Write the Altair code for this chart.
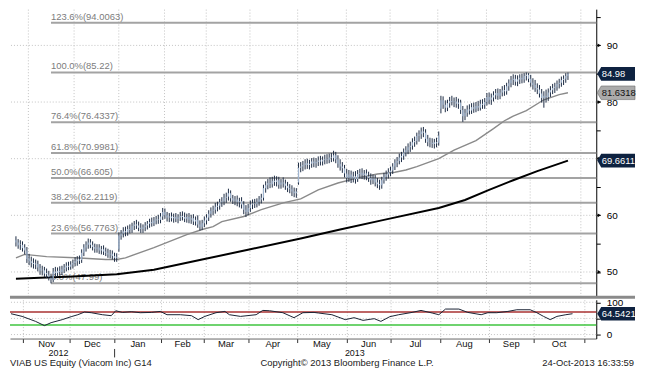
import altair as alt
import pandas as pd

# ---------------- data (trading-day index: 1 Nov 2012 = 0) ----------------
first_idx = -6

opens = [
    55.6, 55.2, 54.8, 54.8, 54.3, 53.8, 52.4, 51.9, 51.6, 51.3,
    51.4, 50.7, 50.3, 50.3, 49.8, 49.5, 49.0, 48.6, 50.1, 49.8,
    50.2, 50.0, 50.5, 50.8, 51.1, 50.9, 51.3, 51.6, 51.9, 52.2,
    52.1, 53.4, 54.3, 54.8, 55.2, 54.8, 54.4, 54.1, 54.3, 53.8,
    54.0, 53.6, 53.4, 53.1, 53.2, 52.8, 52.5, 54.0, 56.4, 56.8,
    57.2, 57.0, 57.6, 57.4, 58.1, 58.4, 58.2, 57.8, 57.6, 57.9,
    58.2, 58.5, 58.8, 58.6, 59.1, 59.3, 59.2, 59.8, 60.6, 60.0,
    59.6, 59.8, 59.5, 59.7, 59.4, 59.6, 59.9, 59.7, 59.4, 59.7,
    59.2, 59.5, 58.9, 59.2, 58.4, 58.0, 58.6, 59.1, 59.6, 60.3,
    60.8, 61.0, 61.5, 61.7, 62.3, 62.5, 63.1, 63.3, 63.9, 63.0,
    62.6, 62.8, 62.3, 62.5, 61.9, 61.0, 60.6, 61.3, 61.9, 62.1,
    62.0, 62.4, 62.8, 63.1, 64.8, 65.3, 65.7, 65.5, 66.1, 65.9,
    66.2, 65.4, 65.8, 65.6, 65.2, 64.8, 64.6, 64.2, 63.9, 65.8,
    68.4, 68.6, 68.9, 69.2, 68.9, 69.1, 69.5, 69.2, 69.4, 69.7,
    69.5, 69.8, 70.0, 69.8, 70.2, 70.1, 70.6, 69.9, 69.1, 68.6,
    68.3, 67.4, 66.6, 67.2, 66.5, 66.9, 66.4, 67.3, 67.5, 67.1,
    67.4, 66.9, 66.6, 66.2, 66.5, 65.8, 65.5, 65.3, 66.2, 66.8,
    67.2, 67.6, 67.9, 68.6, 69.3, 69.6, 70.2, 70.5, 71.1, 71.5,
    72.0, 72.3, 72.9, 73.1, 74.0, 74.3, 74.8, 74.6, 73.5, 72.9,
    72.8, 72.6, 72.9, 72.8, 78.8, 80.3, 79.5, 79.0, 79.8, 80.2,
    80.0, 80.1, 79.7, 79.9, 78.6, 77.5, 78.1, 78.7, 78.5, 79.1,
    78.8, 79.3, 79.0, 79.7, 79.5, 80.0, 80.9, 80.4, 80.8, 81.2,
    81.6, 81.1, 81.7, 82.1, 81.9, 82.8, 83.3, 83.9, 84.1, 83.6,
    84.0, 84.3, 84.0, 84.6, 84.8, 84.1, 83.4, 83.0, 82.5, 82.2,
    81.5, 80.7, 81.1, 80.9, 81.7, 82.1, 82.5, 82.7, 83.2, 83.4,
    83.9, 84.1, 84.6,
]
highs = [
    56.3, 55.8, 55.6, 55.4, 54.9, 54.4, 53.2, 52.7, 52.4, 52.2,
    52.0, 51.4, 51.1, 50.9, 50.6, 50.2, 49.7, 50.7, 50.9, 50.8,
    51.0, 51.1, 51.4, 51.7, 51.8, 51.9, 52.2, 52.6, 52.8, 52.9,
    54.0, 54.9, 55.4, 55.9, 55.8, 55.4, 55.0, 54.9, 54.9, 54.6,
    54.7, 54.3, 54.1, 53.9, 53.8, 53.4, 53.3, 57.0, 57.4, 57.9,
    58.0, 58.2, 58.4, 58.7, 59.0, 59.2, 58.9, 58.6, 58.4, 58.8,
    59.0, 59.4, 59.6, 59.7, 59.9, 60.1, 60.4, 61.3, 61.2, 60.6,
    60.4, 60.5, 60.3, 60.4, 60.2, 60.6, 60.7, 60.5, 60.3, 60.4,
    60.1, 60.2, 59.8, 60.0, 59.1, 59.2, 59.8, 60.2, 60.9, 61.4,
    61.7, 62.2, 62.4, 62.9, 63.2, 63.8, 64.0, 64.7, 64.4, 63.6,
    63.4, 63.5, 63.1, 63.2, 62.5, 61.8, 62.0, 62.6, 62.8, 62.9,
    63.0, 63.4, 63.8, 65.4, 66.0, 66.4, 66.7, 66.8, 67.0, 66.9,
    66.8, 66.4, 66.7, 66.3, 65.9, 65.5, 65.3, 64.9, 64.8, 69.3,
    69.4, 69.6, 69.9, 70.0, 69.8, 70.1, 70.2, 70.1, 70.4, 70.5,
    70.4, 70.7, 70.8, 70.9, 71.0, 71.4, 71.2, 70.6, 69.9, 69.4,
    68.9, 68.2, 68.0, 67.9, 67.7, 67.8, 68.0, 68.2, 68.3, 68.0,
    68.1, 67.7, 67.4, 67.2, 67.1, 66.6, 66.3, 66.8, 67.5, 67.9,
    68.3, 68.6, 69.2, 69.9, 70.3, 70.9, 71.2, 71.8, 72.2, 72.7,
    73.0, 73.6, 73.9, 74.6, 75.0, 75.5, 75.6, 75.2, 74.2, 73.7,
    73.6, 73.5, 73.7, 74.8, 81.1, 81.0, 80.3, 80.4, 80.9, 81.1,
    80.8, 80.9, 80.6, 80.4, 79.3, 78.8, 79.4, 79.6, 79.8, 79.9,
    80.0, 80.2, 80.4, 80.5, 80.7, 81.6, 81.7, 81.5, 81.9, 82.3,
    82.4, 82.3, 82.8, 83.0, 83.4, 84.0, 84.6, 84.9, 84.8, 84.7,
    84.9, 85.0, 85.1, 85.22, 85.1, 84.8, 84.2, 83.9, 83.3, 83.0,
    82.3, 81.9, 82.2, 82.4, 82.8, 83.2, 83.4, 83.8, 84.1, 84.5,
    84.7, 85.1, 85.2,
]
lows = [
    54.5, 54.1, 53.9, 53.6, 53.1, 51.6, 51.2, 50.8, 50.6, 50.5,
    50.1, 49.5, 49.4, 49.1, 48.9, 48.5, 47.99, 48.2, 49.1, 49.2,
    49.4, 49.5, 49.8, 50.1, 50.3, 50.4, 50.6, 51.0, 51.1, 51.4,
    51.6, 52.8, 53.6, 54.1, 54.2, 53.8, 53.4, 53.4, 53.2, 53.1,
    53.0, 52.8, 52.5, 52.4, 52.2, 51.8, 51.8, 53.6, 55.7, 56.1,
    56.3, 56.4, 56.8, 56.9, 57.4, 57.6, 57.2, 56.9, 56.9, 57.2,
    57.5, 57.8, 58.0, 58.1, 58.4, 58.5, 58.6, 59.2, 59.4, 58.9,
    58.8, 58.9, 58.7, 58.8, 58.6, 59.0, 59.1, 58.8, 58.7, 58.6,
    58.5, 58.3, 58.2, 57.8, 57.3, 57.4, 57.9, 58.4, 59.0, 59.6,
    60.0, 60.3, 60.7, 61.0, 61.5, 61.8, 62.2, 62.6, 62.4, 62.0,
    61.8, 61.6, 61.4, 61.2, 60.2, 59.7, 60.0, 60.6, 61.1, 61.3,
    61.4, 61.7, 62.1, 62.6, 64.0, 64.6, 64.8, 64.9, 65.2, 65.1,
    64.7, 64.7, 64.9, 64.5, 64.1, 63.9, 63.4, 63.2, 63.1, 65.4,
    67.6, 67.8, 68.1, 68.2, 68.1, 68.4, 68.5, 68.4, 68.7, 68.8,
    68.8, 69.0, 69.1, 69.2, 69.4, 69.5, 69.2, 68.4, 67.9, 67.5,
    66.7, 65.8, 65.9, 65.7, 65.8, 65.6, 65.9, 66.5, 66.4, 66.3,
    66.2, 65.9, 65.4, 65.5, 65.1, 64.8, 64.5, 64.7, 65.6, 66.1,
    66.5, 66.9, 67.3, 68.0, 68.5, 69.0, 69.4, 69.8, 70.4, 70.8,
    71.2, 71.6, 72.1, 72.5, 73.0, 73.5, 73.8, 72.8, 72.2, 72.0,
    71.9, 71.8, 72.0, 72.3, 78.0, 78.8, 78.2, 78.4, 79.0, 79.4,
    79.1, 79.0, 78.8, 77.9, 76.5, 76.8, 77.4, 77.8, 77.9, 78.1,
    78.2, 78.4, 78.5, 78.8, 78.8, 79.4, 79.6, 79.5, 80.1, 80.5,
    80.4, 80.5, 81.0, 81.1, 81.3, 82.0, 82.6, 83.0, 82.9, 82.8,
    83.2, 83.3, 83.4, 83.8, 83.5, 82.7, 82.2, 81.8, 81.4, 80.8,
    79.9, 79.0, 79.9, 80.2, 80.9, 81.4, 81.6, 82.0, 82.4, 82.7,
    83.0, 83.4, 83.9,
]
closes = [
    55.2, 54.7, 54.9, 54.2, 53.8, 52.3, 51.9, 51.6, 51.4, 51.5,
    50.8, 50.2, 50.4, 49.7, 49.6, 49.1, 48.6, 50.1, 49.8, 50.2,
    50.0, 50.5, 50.8, 51.1, 50.9, 51.3, 51.6, 51.9, 52.2, 52.0,
    53.4, 54.3, 54.8, 55.2, 54.8, 54.4, 54.1, 54.3, 53.8, 54.0,
    53.6, 53.4, 53.1, 53.2, 52.8, 52.5, 52.7, 56.4, 56.8, 57.2,
    57.0, 57.6, 57.4, 58.1, 58.4, 58.2, 57.8, 57.6, 57.9, 58.2,
    58.5, 58.8, 58.6, 59.1, 59.3, 59.2, 59.8, 60.6, 60.0, 59.6,
    59.8, 59.5, 59.7, 59.4, 59.6, 59.9, 59.7, 59.4, 59.7, 59.2,
    59.5, 58.9, 59.2, 58.4, 58.0, 58.6, 59.1, 59.6, 60.3, 60.8,
    61.0, 61.5, 61.7, 62.3, 62.5, 63.1, 63.3, 63.9, 63.0, 62.6,
    62.8, 62.3, 62.5, 61.9, 61.0, 60.6, 61.3, 61.9, 62.1, 62.0,
    62.4, 62.8, 63.1, 64.8, 65.3, 65.7, 65.5, 66.1, 65.9, 66.2,
    65.4, 65.8, 65.6, 65.2, 64.8, 64.6, 64.2, 63.9, 64.2, 68.4,
    68.6, 68.9, 69.2, 68.9, 69.1, 69.5, 69.2, 69.4, 69.7, 69.5,
    69.8, 70.0, 69.8, 70.2, 70.1, 70.6, 69.9, 69.1, 68.6, 68.3,
    67.4, 66.6, 67.2, 66.5, 66.9, 66.4, 67.3, 67.5, 67.1, 67.4,
    66.9, 66.6, 66.2, 66.5, 65.8, 65.5, 65.3, 66.2, 66.8, 67.2,
    67.6, 67.9, 68.6, 69.3, 69.6, 70.2, 70.5, 71.1, 71.5, 72.0,
    72.3, 72.9, 73.1, 74.0, 74.3, 74.8, 74.6, 73.5, 72.9, 72.8,
    72.6, 72.9, 72.7, 74.1, 80.3, 79.5, 79.0, 79.8, 80.2, 80.0,
    80.1, 79.7, 79.9, 78.6, 77.5, 78.1, 78.7, 78.5, 79.1, 78.8,
    79.3, 79.0, 79.7, 79.5, 80.0, 80.9, 80.4, 80.8, 81.2, 81.6,
    81.1, 81.7, 82.1, 81.9, 82.8, 83.3, 83.9, 84.1, 83.6, 84.0,
    84.3, 84.0, 84.6, 84.8, 84.1, 83.4, 83.0, 82.5, 82.2, 81.5,
    80.7, 81.1, 80.9, 81.7, 82.1, 82.5, 82.7, 83.2, 83.4, 83.9,
    84.1, 84.6, 84.98,
]
assert len(opens) == len(highs) == len(lows) == len(closes)

ma50_idx = [-6, -2, 8, 21, 35, 40, 44, 57, 72, 79, 84, 88, 98, 106, 116, 124, 132,
            141, 150, 159, 167, 172, 177, 187, 194, 204, 212, 217, 221, 227, 235, 242, 246]
ma50_val = [52.5, 53.1, 52.7, 52.5, 52.2, 52.2, 52.5, 54.3, 56.6, 57.5, 58.0, 58.9, 59.8,
            61.0, 62.2, 62.9, 64.5, 65.7, 66.6, 67.3, 67.6, 68.0, 68.6, 70.0, 71.5, 73.2,
            75.3, 76.7, 77.5, 78.5, 80.4, 81.3, 81.6318]

ma200_idx = [-6, 5, 20, 40, 57, 79, 101, 124, 142, 162, 187, 199, 210, 221, 232, 246]
ma200_val = [48.8, 49.0, 49.2, 49.6, 50.4, 52.2, 54.0, 55.9, 57.5, 59.2, 61.3, 62.7,
             64.5, 66.2, 67.8, 69.6611]

rsi_idx = [-6, -1, 5, 9, 12, 17, 21, 24, 27, 30, 35, 39, 41, 44, 48, 52, 57, 61, 64, 70,
           75, 78, 81, 86, 90, 92, 97, 104, 107, 110, 116, 121, 125, 130, 132, 138, 144,
           148, 152, 157, 160, 164, 168, 174, 178, 183, 186, 189, 195, 199, 205, 208, 212,
           217, 221, 227, 230, 233, 236, 239, 243, 246]
rsi_val = [64.6, 56.3, 40.9, 27.7, 36.9, 46.2, 55.4, 61.5, 69.8, 67.7, 61.5, 58.5, 73.8,
           68.6, 70.8, 67.7, 68.6, 71.7, 61.5, 61.5, 58.5, 46.2, 56.3, 67.7, 71.7, 61.5,
           56.3, 61.5, 74.8, 73.8, 67.7, 52.3, 67.7, 68.6, 66.8, 61.5, 46.2, 52.3, 44.0,
           49.2, 40.9, 55.4, 61.5, 68.6, 74.8, 66.8, 61.5, 79.0, 79.0, 68.6, 61.5, 67.7,
           67.7, 71.7, 76.9, 76.9, 67.7, 56.3, 46.2, 56.3, 61.5, 64.5421]

fib_pct = ["123.6%", "100.0%", "76.4%", "61.8%", "50.0%", "38.2%", "23.6%", "0.0%"]
fib_val = [94.0063, 85.22, 76.4337, 70.9981, 66.605, 62.2119, 56.7763, 47.99]
fib_start_idx = 10

month_names = ["Nov", "Dec", "Jan", "Feb", "Mar", "Apr", "May", "Jun", "Jul", "Aug", "Sep", "Oct"]
month_start_idx = [0, 21, 41, 62, 81, 101, 123, 145, 165, 187, 209, 229, 252]
year_names = ["2012", "2013"]
year_label_idx = [15.3, 148.3]
year_break_idx = 40.5

price_ticks = [45, 50, 55, 60, 65, 70, 75, 80, 85, 90, 95]
price_grid = [50, 60, 70, 80, 90]
rsi_ticks = [0, 50, 100]
rsi_upper, rsi_lower = 70, 30

last_values_main = [84.98, 69.6611]
last_ma50 = 81.6318
last_rsi = 64.5421

footer_left = "VIAB US Equity (Viacom Inc) G14"
footer_mid = "Copyright\u00a9 2013 Bloomberg Finance L.P."
footer_right = "24-Oct-2013 16:33:59"

# ---------------- layout / style ----------------
W, H1, H2 = 590, 288.5, 39
XDOM = [-6.45, 256.65]
PDOM = [45.79, 96.4]
RDOM = [-12.3, 107.7]
FONT = "Liberation Sans"
NAVY = "#0e2240"
CANDLE = "#1c2b44"
BODY = "#9fb4cf"
GRID = "#c2c2c2"
BOX_C = W + 20          # box centre (pixels from plot left)
BOX_SIZE = 38 * 38      # custom symbol: unit square -> 38 px wide
BOX_PATH = "M-1,0L-0.79,-0.36L1,-0.36L1,0.36L-0.79,0.36Z"
TXT_X = W + 5.5
FS = 9.5

bars = pd.DataFrame({
    "idx": list(range(first_idx, first_idx + len(closes))),
    "open": opens, "high": highs, "low": lows, "close": closes,
})
ma50 = pd.DataFrame({"idx": ma50_idx, "v": ma50_val})
ma200 = pd.DataFrame({"idx": ma200_idx, "v": ma200_val})
rsi = pd.DataFrame({"idx": rsi_idx, "v": rsi_val})
fib = pd.DataFrame({"v": fib_val,
                    "label": [f"{p}({v})" for p, v in zip(fib_pct, fib_val)],
                    "idx": [fib_start_idx] * len(fib_val)})
grid_x = [s - 0.5 for s in month_start_idx]
months = pd.DataFrame({"m": month_names,
                       "idx": [(a + b - 1) / 2 for a, b in zip(month_start_idx[:-1], month_start_idx[1:])]})
years = pd.DataFrame({"y": year_names, "idx": year_label_idx})

ax_x_main = alt.Axis(values=grid_x, grid=True, gridDash=[1, 2], gridColor=GRID,
                     labels=False, ticks=False, domain=False, title=None)
ax_x_rsi = alt.Axis(values=grid_x, grid=True, gridDash=[1, 2], gridColor=GRID,
                    labels=False, ticks=True, tickSize=4, tickColor="#333",
                    domain=True, domainColor="#666", title=None)
ax_y_main = alt.Axis(orient="right", values=price_ticks,
                     labelExpr="(datum.value % 10 == 0 && datum.value != 70) ? datum.label : ''",
                     tickSize=4, tickColor="#000", domainColor="#000", grid=False,
                     labelFontSize=10, labelColor="#000", labelPadding=6, title=None)
ax_y_rsi = alt.Axis(orient="right", values=rsi_ticks,
                    labelExpr="datum.value == 50 ? '' : datum.label",
                    tickSize=4, tickColor="#000", domainColor="#000", grid=False,
                    labelFontSize=10, labelColor="#000", labelPadding=6, title=None)


def XM(f):
    return alt.X(f"{f}:Q", scale=alt.Scale(domain=XDOM, nice=False, zero=False), axis=ax_x_main)


def XR(f):
    return alt.X(f"{f}:Q", scale=alt.Scale(domain=XDOM, nice=False, zero=False), axis=ax_x_rsi)


def YP(f):
    return alt.Y(f"{f}:Q", scale=alt.Scale(domain=PDOM, nice=False, zero=False), axis=ax_y_main)


def YR(f):
    return alt.Y(f"{f}:Q", scale=alt.Scale(domain=RDOM, nice=False, zero=False), axis=ax_y_rsi)


def one(text):
    return pd.DataFrame({"t": [text]})


# ---------------- main panel ----------------
hgrid = alt.Chart(pd.DataFrame({"v": price_grid})).mark_rule(
    strokeDash=[1, 2], color=GRID).encode(y=YP("v"))
fib_lines = alt.Chart(fib).mark_rule(color="#a3a3a3", strokeWidth=2).encode(
    x=XM("idx"), x2=alt.value(W), y=YP("v"))
fib_text = alt.Chart(fib).mark_text(align="left", baseline="bottom", dy=-1,
                                    fontSize=FS, color="#7c7c7c").encode(
    x=XM("idx"), y=YP("v"), text="label:N")
ma200_line = alt.Chart(ma200).mark_line(color="#000", strokeWidth=2).encode(x=XM("idx"), y=YP("v"))
ma50_line = alt.Chart(ma50).mark_line(color="#8a8a8a", strokeWidth=1.4).encode(x=XM("idx"), y=YP("v"))
wick = alt.Chart(bars).mark_rule(color=CANDLE, strokeWidth=1).encode(
    x=XM("idx"), y=YP("low"), y2="high:Q")
body = alt.Chart(bars).mark_bar(size=1.2, color=BODY).encode(
    x=XM("idx"), y=YP("open"), y2="close:Q")
sep = alt.Chart(one("")).mark_rule(color="#8a8a8a", strokeWidth=3).encode(
    x=alt.value(0), x2=alt.value(W + 39), y=alt.value(H1 + 1.5))
tri = alt.Chart(pd.DataFrame({"v": price_grid})).mark_point(
    shape="triangle-right", filled=True, size=14, color="#000", opacity=1).encode(
    x=alt.value(W + 3), y=YP("v"))
bx_df = pd.DataFrame({"v": last_values_main, "t": [str(v) for v in last_values_main]})
bx = alt.Chart(bx_df).mark_point(shape=BOX_PATH, size=BOX_SIZE, filled=True, color=NAVY,
                                 opacity=1).encode(x=alt.value(BOX_C), y=YP("v"))
bx_t = alt.Chart(bx_df).mark_text(align="left", baseline="middle", color="white", fontSize=FS).encode(
    x=alt.value(TXT_X), y=YP("v"), text="t:N")
g_df = pd.DataFrame({"v": [last_ma50], "t": [str(last_ma50)]})
gbx = alt.Chart(g_df).mark_point(shape=BOX_PATH, size=BOX_SIZE, filled=True, fill="#ababab",
                                 stroke="#6a6a6a", strokeWidth=0.6, opacity=1).encode(
    x=alt.value(BOX_C), y=YP("v"))
gbx_t = alt.Chart(g_df).mark_text(align="left", baseline="middle", color="#111", fontSize=FS).encode(
    x=alt.value(TXT_X), y=YP("v"), text="t:N")

main = alt.layer(hgrid, fib_lines, fib_text, ma200_line, ma50_line, wick, body, sep, tri,
                 bx, bx_t, gbx, gbx_t).properties(width=W, height=H1)

# ---------------- RSI panel ----------------
rgrid = alt.Chart(pd.DataFrame({"v": rsi_ticks})).mark_rule(
    strokeDash=[1, 2], color=GRID).encode(y=YR("v"))
lvl = alt.Chart(pd.DataFrame({"v": [rsi_upper, rsi_lower], "c": ["#a83232", "#3fc43f"]})).mark_rule(
    strokeWidth=1.5).encode(y=YR("v"), color=alt.Color("c:N", scale=None))
rsi_line = alt.Chart(rsi).mark_line(color="#1a2233", strokeWidth=1).encode(x=XR("idx"), y=YR("v"))
mtext = alt.Chart(months).mark_text(baseline="middle", fontSize=FS, color="#111").encode(
    x=XR("idx"), y=alt.value(H2 + 6), text="m:N")
ytext = alt.Chart(years).mark_text(baseline="middle", fontSize=9, color="#111").encode(
    x=XR("idx"), y=alt.value(H2 + 14.5), text="y:N")
ybreak = alt.Chart(pd.DataFrame({"idx": [year_break_idx]})).mark_rule(color="#333").encode(
    x=XR("idx"), y=alt.value(H2 + 10.5), y2=alt.value(H2 + 19))
foot_l = alt.Chart(one(footer_left)).mark_text(
    align="left", baseline="middle", fontSize=FS, color="#222").encode(
    x=alt.value(0), y=alt.value(H2 + 25), text="t:N")
foot_m = alt.Chart(one(footer_mid)).mark_text(
    align="left", baseline="middle", fontSize=FS, color="#222").encode(
    x=alt.value(252), y=alt.value(H2 + 25), text="t:N")
foot_r = alt.Chart(one(footer_right)).mark_text(
    align="right", baseline="middle", fontSize=FS, color="#222").encode(
    x=alt.value(W + 38), y=alt.value(H2 + 25), text="t:N")
rbx_df = pd.DataFrame({"v": [last_rsi], "t": [str(last_rsi)]})
rbx = alt.Chart(rbx_df).mark_point(shape=BOX_PATH, size=BOX_SIZE, filled=True, color=NAVY,
                                   opacity=1).encode(x=alt.value(BOX_C), y=YR("v"))
rbx_t = alt.Chart(rbx_df).mark_text(align="left", baseline="middle", color="white", fontSize=FS).encode(
    x=alt.value(TXT_X), y=YR("v"), text="t:N")

rsi_panel = alt.layer(rgrid, lvl, rsi_line, mtext, ytext, ybreak, foot_l, foot_m, foot_r,
                      rbx, rbx_t).properties(width=W, height=H2)

chart = alt.vconcat(main, rsi_panel, spacing=3.5, bounds="flush").resolve_scale(
    y="independent").properties(padding=0).configure(font=FONT).configure_view(stroke=None)

chart.save("out.html", embed_options={"renderer": "svg", "actions": False})
